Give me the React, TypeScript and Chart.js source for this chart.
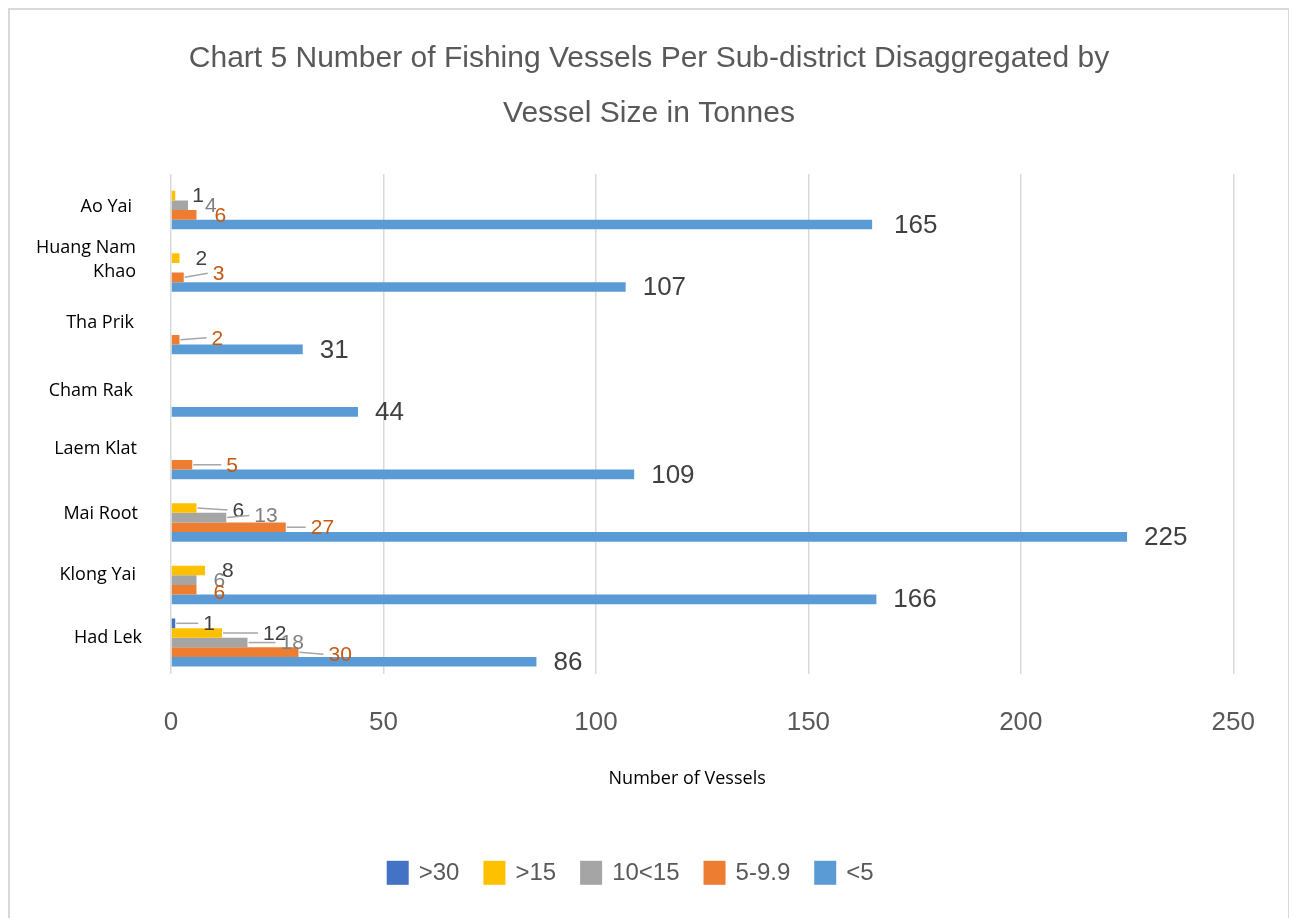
import React, { useEffect, useRef } from "react";
import { Chart, registerables } from "chart.js";

Chart.register(...registerables);

const TITLE_LINES = [
  "Chart 5 Number of Fishing Vessels Per Sub-district Disaggregated by",
  "Vessel Size in Tonnes",
];
const X_TITLE = "Number of Vessels";
const CATEGORIES: (string | string[])[] = [
  "Ao Yai",
  ["Huang Nam", "Khao"],
  "Tha Prik",
  "Cham Rak",
  "Laem Klat",
  "Mai Root",
  "Klong Yai",
  "Had Lek",
];
const SERIES_NAMES = [">30", ">15", "10<15", "5-9.9", "<5"];
const OVER_30 = [0, 0, 0, 0, 0, 0, 0, 1];
const OVER_15 = [1, 2, 0, 0, 0, 6, 8, 12];
const FROM_10_TO_15 = [4, 0, 0, 0, 0, 13, 6, 18];
const FROM_5_TO_9 = [6, 3, 2, 0, 5, 27, 6, 30];
const UNDER_5 = [165, 107, 31, 44, 109, 225, 166, 86];
const X_MAX = 250;
const X_STEP = 50;

const SERIES_COLORS = ["#4472C4", "#FFC000", "#A5A5A5", "#ED7D31", "#5B9BD5"];
const LABEL_COLORS = ["#404040", "#404040", "#7F7F7F", "#C55A11", "#404040"];
const ARIAL = '"Liberation Sans", Arial, sans-serif';
const CALIBRI = '"Open Sans", "Noto Sans", sans-serif';

// vertical nudges for category labels (style only)
const CATEGORY_LABEL_DY = [2, -8, -7, -2, -6, -4, -5, -5];
const CATEGORY_LABEL_DX = [-4, 0, -2, -3, 1, 2, 0, 6];

// label placement tweaks: [dx from bar end, dy, leader line]
const LABEL_TWEAKS: Record<string, [number, number, boolean]> = {
  "0-7": [28, 0, true],
  "1-1": [16, 0, false],
  "1-5": [36, 2, true],
  "1-7": [41, 0, true],
  "2-5": [28, -2, true],
  "2-7": [33, 0, true],
  "3-0": [18, 0, false],
  "3-1": [29, -4, true],
  "3-2": [32, -2, true],
  "3-4": [34, 0, true],
  "3-5": [25, 0, true],
  "3-6": [17, 2, false],
  "3-7": [30, 2, true],
  "4-0": [22, 0, false],
};

const overlayPlugin = {
  id: "overlay",
  afterDraw(chart: any) {
    const ctx = chart.ctx;
    const area = chart.chartArea;
    const yScale = chart.scales.y;
    ctx.save();

    // category labels
    ctx.fillStyle = "#000000";
    ctx.font = `18px ${CALIBRI}`;
    ctx.textAlign = "right";
    ctx.textBaseline = "middle";
    CATEGORIES.forEach((lab, i) => {
      const y = yScale.getPixelForValue(i) + CATEGORY_LABEL_DY[i];
      const lines = Array.isArray(lab) ? lab : [lab];
      const lh = 24;
      const start = y - ((lines.length - 1) * lh) / 2;
      lines.forEach((t, k) =>
        ctx.fillText(t, area.left - 35 + CATEGORY_LABEL_DX[i], start + k * lh)
      );
    });

    // data labels
    chart.data.datasets.forEach((ds: any, d: number) => {
      const meta = chart.getDatasetMeta(d);
      meta.data.forEach((bar: any, i: number) => {
        const v = ds.data[i];
        if (!v) return;
        const tw = LABEL_TWEAKS[`${d}-${i}`] || [17, 0, false];
        const x0 = bar.x;
        const y0 = bar.y;
        const tx = x0 + tw[0];
        const ty = y0 + tw[1];
        if (tw[2]) {
          ctx.strokeStyle = "#A6A6A6";
          ctx.lineWidth = 1.5;
          ctx.beginPath();
          ctx.moveTo(x0 + 1, y0);
          ctx.lineTo(tx - 5, ty);
          ctx.stroke();
        }
        ctx.fillStyle = LABEL_COLORS[d];
        ctx.font = `${d === 4 ? 26 : 21}px ${ARIAL}`;
        ctx.textAlign = "left";
        ctx.textBaseline = "middle";
        ctx.fillText(String(v), tx, ty + 1);
      });
    });

    // axis title
    ctx.fillStyle = "#000000";
    ctx.font = `18px ${CALIBRI}`;
    ctx.textAlign = "center";
    ctx.textBaseline = "middle";
    const cx = (area.left + area.right) / 2;
    ctx.fillText(X_TITLE, cx - 15, area.bottom + 105);

    // legend
    ctx.font = `24px ${ARIAL}`;
    const boxW = 22;
    const boxH = 24;
    const gapText = 10;
    const gapItem = 24;
    const widths = SERIES_NAMES.map((n) => boxW + gapText + ctx.measureText(n).width);
    const total = widths.reduce((a, b) => a + b, 0) + gapItem * (widths.length - 1);
    let x = cx - 72 - total / 2;
    const ly = area.bottom + 199;
    SERIES_NAMES.forEach((n, k) => {
      ctx.fillStyle = SERIES_COLORS[k];
      ctx.fillRect(x, ly - boxH / 2, boxW, boxH);
      ctx.fillStyle = "#595959";
      ctx.textAlign = "left";
      ctx.fillText(n, x + boxW + gapText, ly + 1);
      x += widths[k] + gapItem;
    });
    ctx.restore();
  },
};

export default function App() {
  const ref = useRef<HTMLCanvasElement | null>(null);
  useEffect(() => {
    document.documentElement.style.overflow = "hidden";
    if (!ref.current) return;
    const seriesData = [OVER_30, OVER_15, FROM_10_TO_15, FROM_5_TO_9, UNDER_5];
    const chart = new Chart(ref.current, {
      type: "bar",
      data: {
        labels: CATEGORIES.map((c) => (Array.isArray(c) ? c.join(" ") : c)),
        datasets: SERIES_NAMES.map((name, k) => ({
          label: name,
          data: seriesData[k],
          backgroundColor: SERIES_COLORS[k],
          borderWidth: 0,
          barPercentage: 1,
          categoryPercentage: 0.77,
        })),
      },
      options: {
        indexAxis: "y",
        animation: false,
        responsive: true,
        maintainAspectRatio: false,
        layout: { padding: { left: 48, right: 48, top: 0, bottom: 147 } },
        plugins: {
          legend: { display: false },
          tooltip: { enabled: false },
          title: {
            display: true,
            text: TITLE_LINES,
            color: "#595959",
            font: { family: ARIAL, size: 30, weight: "normal", lineHeight: 1.833 },
            padding: { top: 21.5, bottom: 32.5 },
          },
        },
        scales: {
          x: {
            min: 0,
            max: X_MAX,
            ticks: {
              stepSize: X_STEP,
              color: "#595959",
              font: { family: ARIAL, size: 26 },
              padding: 33,
            },
            grid: { color: "#D9D9D9", lineWidth: 1.5, drawTicks: false },
            border: { display: false },
          },
          y: {
            ticks: { display: false },
            grid: { display: false, drawTicks: false },
            border: { display: false },
            afterFit: (scale: any) => {
              scale.width = 113;
            },
          },
        },
      },
      plugins: [overlayPlugin],
    });
    return () => chart.destroy();
  }, []);

  return (
    <div
      style={{
        width: 1278,
        height: 908,
        border: "2px solid #D9D9D9",
        position: "relative",
        background: "#fff",
      }}
    >
      <canvas ref={ref} />
    </div>
  );
}
